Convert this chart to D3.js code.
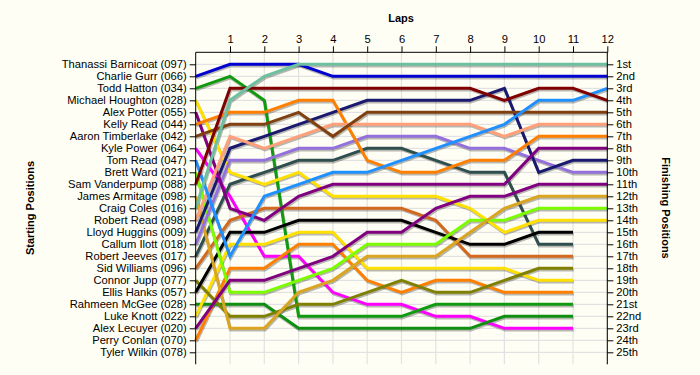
<!DOCTYPE html>
<html>
<head>
<meta charset="utf-8">
<script src="https://cdn.jsdelivr.net/npm/d3@7"></script>
<style>
  body { margin: 0; background: #fffef4; }
  svg { display: block; font-family: "Liberation Sans", Arial, sans-serif; }
  .axis text { font-size: 11.2px; fill: #000; }
  .title { font-size: 11px; font-weight: bold; }
</style>
</head>
<body>
<svg id="chart"></svg>
<script>
var width = 700, height = 375;

var laps = [0,1,2,3,4,5,6,7,8,9,10,11,12];
var startNames = ["Thanassi Barnicoat (097)","Charlie Gurr (066)","Todd Hatton (034)","Michael Houghton (028)",
  "Alex Potter (055)","Kelly Read (044)","Aaron Timberlake (042)","Kyle Power (064)","Tom Read (047)",
  "Brett Ward (021)","Sam Vanderpump (088)","James Armitage (098)","Craig Coles (016)","Robert Read (098)",
  "Lloyd Huggins (009)","Callum Ilott (018)","Robert Jeeves (017)","Sid Williams (096)","Connor Jupp (077)",
  "Ellis Hanks (057)","Rahmeen McGee (028)","Luke Knott (022)","Alex Lecuyer (020)","Perry Conlan (070)",
  "Tyler Wilkin (078)"];
var finishNames = ["1st","2nd","3rd","4th","5th","6th","7th","8th","9th","10th","11th","12th","13th",
  "14th","15th","16th","17th","18th","19th","20th","21st","22nd","23rd","24th","25th"];

// race positions per lap (lap 0 = grid), null = not running
var aqua      = [13,4,2,1,1,1,1,1,1,1,1,1,1];
var blue      = [2,1,1,1,2,2,2,2,2,2,2,2,2];
var maroon    = [11,3,3,3,3,3,3,3,3,4,3,3,4];
var dodger    = [9,17,12,11,10,10,9,8,7,6,4,4,3];
var brown     = [7,6,6,5,7,5,5,5,5,5,5,5,5];
var salmon    = [14,7,8,7,6,6,6,6,6,7,6,6,6];
var orangeA   = [6,5,5,4,4,9,10,10,9,9,7,7,7];
var purpleA   = [5,13,14,12,11,11,11,11,11,11,8,8,8];
var navy      = [15,8,7,6,5,4,4,4,4,3,10,9,9];
var lavender  = [16,9,9,8,8,7,7,7,8,8,9,10,10];
var purpleB   = [23,19,19,18,17,15,15,13,12,12,11,11,11];
var golden    = [12,23,23,20,19,17,17,17,15,13,12,12,12];
var lime      = [10,20,20,19,18,16,16,16,14,14,13,13,13];
var yellowA   = [4,10,11,10,12,12,12,12,13,15,14,14,14];
var black     = [20,15,15,14,14,14,14,15,16,16,15,15,null];
var slate     = [17,11,10,9,9,8,8,9,10,10,16,16,null];
var chocolate = [18,14,13,13,13,13,13,14,17,17,17,17,null];
var olive     = [19,22,22,21,21,20,19,20,20,19,18,18,null];
var yellowB   = [22,16,16,15,15,18,18,18,18,18,19,19,null];
var orangeB   = [24,18,18,16,16,19,20,19,19,20,20,20,null];
var greenA    = [3,2,4,22,22,22,22,21,21,21,21,21,null];
var greenB    = [21,21,21,23,23,23,23,23,23,22,22,22,null];
var magenta   = [8,12,17,17,20,21,21,22,22,23,23,23,null];

var series = [magenta, greenB, greenA, orangeB, yellowB, olive, chocolate, slate, black, yellowA, lime,
  golden, purpleB, lavender, navy, purpleA, orangeA, salmon, brown, dodger, maroon, blue, aqua];
var colors = ["#ff00ff","#0f8f0f","#109a10","#ff8000","#ffe000","#808000","#d2691e","#2f4f4f","#000000",
  "#ffe000","#7cfc00","#daa520","#800080","#9370db","#191970","#800080","#ff8000","#ffa07a","#804010",
  "#1e90ff","#800000","#0000d0","#6dc0a0"];

var svg = d3.select("#chart").attr("width", width).attr("height", height);

var x = d3.scaleLinear().domain([0, 12]).range([195.7, 607.3]);
var y = d3.scaleLinear().domain([0, 26]).range([52.3, 364.3]);

// grid
var grid = svg.append("g");
grid.selectAll(".vg").data(laps.slice(1)).enter().append("line")
  .attr("x1", d => x(d)).attr("x2", d => x(d))
  .attr("y1", y(0)).attr("y2", y(26))
  .attr("stroke", "#e2e2e2").attr("stroke-width", 1.2);
grid.selectAll(".hg").data(d3.range(1, 26)).enter().append("line")
  .attr("x1", x(0)).attr("x2", x(12))
  .attr("y1", d => y(d)).attr("y2", d => y(d))
  .attr("stroke", "#e2e2e2").attr("stroke-width", 1.2);

var line = d3.line()
  .defined(d => d != null)
  .x((d, i) => x(laps[i]))
  .y(d => y(d));

// shadows then lines
svg.append("g").attr("transform", "translate(0.8,1.6)")
  .selectAll("path").data(series).enter().append("path")
  .attr("d", line).attr("fill", "none")
  .attr("stroke", "#000").attr("stroke-opacity", 0.28).attr("stroke-width", 3);

svg.append("g").selectAll("path").data(series).enter().append("path")
  .attr("d", line).attr("fill", "none")
  .attr("stroke", (d, i) => colors[i]).attr("stroke-width", 3);

// axes
svg.append("g").attr("class", "axis")
  .attr("transform", "translate(0," + y(0) + ")")
  .call(d3.axisTop(x).tickValues(laps.slice(1)).tickSize(6).tickSizeOuter(0))
  .call(g => g.select(".domain").attr("d", "M" + x(0) + ",0H" + (x(12) + 0.5)));

svg.append("g").attr("class", "axis")
  .attr("transform", "translate(" + x(0) + ",0)")
  .call(d3.axisLeft(y).tickValues(d3.range(1, 26)).tickSize(6).tickSizeOuter(0)
    .tickFormat(d => startNames[d - 1]))
  .call(g => g.select(".domain").attr("d", "M0," + y(0) + "V" + y(26)));

svg.append("g").attr("class", "axis")
  .attr("transform", "translate(" + x(12) + ",0)")
  .call(d3.axisRight(y).tickValues(d3.range(1, 26)).tickSize(6).tickSizeOuter(0)
    .tickFormat(d => finishNames[d - 1]))
  .call(g => g.select(".domain").attr("d", "M0," + y(0) + "V" + y(26)));

svg.selectAll(".axis line, .axis path").attr("stroke", "#000");

svg.append("text").attr("class", "title")
  .attr("x", 401).attr("y", 22).attr("text-anchor", "middle").text("Laps");
svg.append("text").attr("class", "title")
  .attr("transform", "translate(34,208) rotate(-90)").attr("text-anchor", "middle").text("Starting Positions");
svg.append("text").attr("class", "title")
  .attr("transform", "translate(662,208) rotate(90)").attr("text-anchor", "middle").text("Finishing Positions");
</script>
</body>
</html>
